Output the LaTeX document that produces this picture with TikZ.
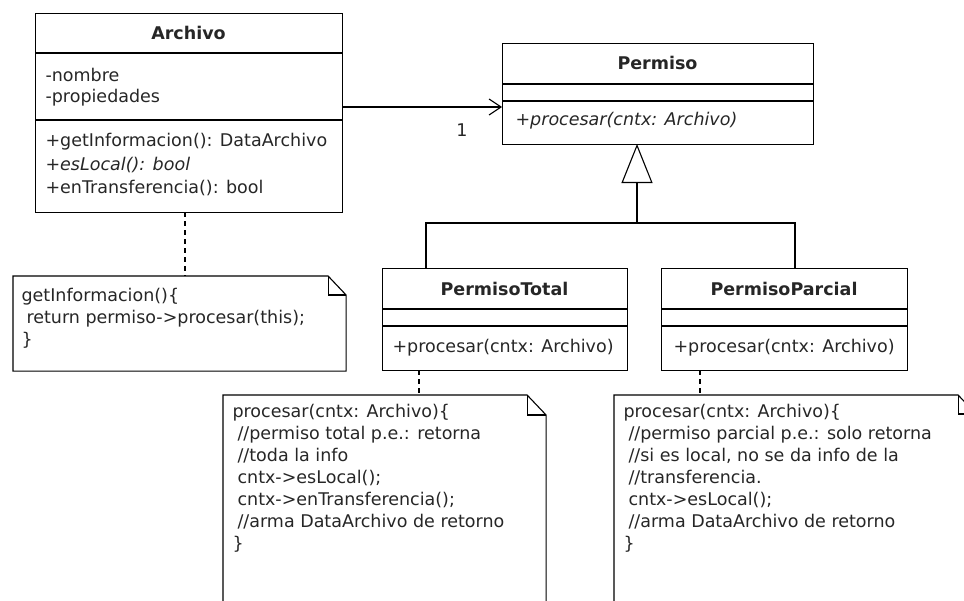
\documentclass[tikz,border=0pt]{standalone}
\usepackage{fontspec}
\setmainfont{DejaVu Sans}
\usetikzlibrary{arrows.meta,calc}
\begin{document}
\begin{tikzpicture}[x=1pt,y=-1pt,
  line width=1.1pt,
  txt/.style={inner sep=0pt,anchor=west,text=black!85,font=\fontsize{17.5}{22}\selectfont},
  ttl/.style={inner sep=0pt,text=black!85,font=\fontsize{17.5}{22}\selectfont\bfseries},
  box/.style={draw,anchor=north west,inner sep=0pt},
  notetxt/.style={inner sep=0pt,anchor=north west,align=left,text=black!85,font=\fontsize{17.5}{22}\selectfont},
  dep/.style={dash pattern=on 5pt off 4pt,line width=1.1pt}
]
\useasboundingbox (0,0) rectangle (964,600);
\clip (0,0) rectangle (964,600);

% Archivo
\node[box,minimum width=307pt,minimum height=199pt] (arch) at (35,13) {};
\draw (35,53) -- (342,53);
\draw (35,120) -- (342,120);
\node[ttl] (archT) at (188.5,33) {Archivo};
\node[txt] (a1) at (45,75) {-nombre};
\node[txt] (a2) at (45,98) {-propiedades};
\node[txt] (m1) at (45,142) {+getInformacion(): DataArchivo};
\node[txt] (m2) at (45,165) {\itshape +esLocal(): bool};
\node[txt] (m3) at (45,188) {+enTransferencia(): bool};

% Permiso
\node[box,minimum width=311pt,minimum height=101pt] (perm) at (502,43) {};
\draw (502,84) -- (813,84);
\draw (502,101) -- (813,101);
\node[ttl] (permT) at (657.5,63) {Permiso};
\node[txt] (pm) at (515,121) {\itshape +procesar(cntx: Archivo)};

% PermisoTotal
\node[box,minimum width=245pt,minimum height=102pt] (ptot) at (382,268) {};
\draw (382,309) -- (627,309);
\draw (382,326) -- (627,326);
\node[ttl] (ptotT) at (504.5,289) {PermisoTotal};
\node[txt] (ptm) at (392,348) {+procesar(cntx: Archivo)};

% PermisoParcial
\node[box,minimum width=246pt,minimum height=102pt] (ppar) at (661,268) {};
\draw (661,309) -- (907,309);
\draw (661,326) -- (907,326);
\node[ttl] (pparT) at (784,289) {PermisoParcial};
\node[txt] (ppm) at (673,348) {+procesar(cntx: Archivo)};

% association
\coordinate (asrc) at (342,107);
\coordinate (adst) at (502,107);
\draw[-{Straight Barb[length=12pt,width=16pt,line width=1.1pt]}] (asrc) -- (adst);
\node[inner sep=0pt,text=black!85,font=\fontsize{17.5}{22}\selectfont] (mult) at (462,130) {1};

% generalization
\coordinate (hub) at (637,223);
\coordinate (tl) at (426,223);
\coordinate (tr) at (795,223);
\coordinate (pb) at (637,144);
\draw (426,268) -- (tl) -- (tr) -- (795,268);
\draw[-{Triangle[open,length=39pt,width=31pt,line width=1.1pt]}] (hub) -- (pb);

% note 1
\node[box,draw=none,minimum width=332pt,minimum height=94pt] (n1) at (13,276) {};
\draw (n1.north west) -- ($(n1.north east)+(-18,0)$) -- ($(n1.north east)+(0,19)$) -- (n1.south east) -- (n1.south west) -- cycle;
\draw ($(n1.north east)+(-18,0)$) -- ++(0,19) -- ++(18,0);
\node[notetxt] (n1t) at (21,288) {getInformacion()\{\\\hspace*{5pt}return permiso->procesar(this);\\\}};
\coordinate (d1a) at (185,212);
\coordinate (d1b) at (185,276);
\draw[dep] (d1a) -- (d1b);

% note 2
\node[box,draw=none,minimum width=322pt,minimum height=220pt] (n2) at (223,395) {};
\draw (n2.north west) -- ($(n2.north east)+(-19,0)$) -- ($(n2.north east)+(0,20)$) -- (n2.south east) -- (n2.south west) -- cycle;
\draw ($(n2.north east)+(-19,0)$) -- ++(0,20) -- ++(19,0);
\node[notetxt] (n2t) at (232,404) {procesar(cntx: Archivo)\{\\
\hspace*{5pt}//permiso total p.e.: retorna\\
\hspace*{5pt}//toda la info\\
\hspace*{5pt}cntx->esLocal();\\
\hspace*{5pt}cntx->enTransferencia();\\
\hspace*{5pt}//arma DataArchivo de retorno\\
\}};
\coordinate (d2a) at (419,370);
\coordinate (d2b) at (419,395);
\draw[dep] (d2a) -- (d2b);

% note 3
\node[box,draw=none,minimum width=361pt,minimum height=220pt] (n3) at (614,395) {};
\draw (n3.north west) -- ($(n3.north east)+(-18,0)$) -- ($(n3.north east)+(0,19)$) -- (n3.south east) -- (n3.south west) -- cycle;
\draw ($(n3.north east)+(-18,0)$) -- ++(0,19) -- ++(18,0);
\node[notetxt] (n3t) at (623,404) {procesar(cntx: Archivo)\{\\
\hspace*{5pt}//permiso parcial p.e.: solo retorna\\
\hspace*{5pt}//si es local, no se da info de la\\
\hspace*{5pt}//transferencia.\\
\hspace*{5pt}cntx->esLocal();\\
\hspace*{5pt}//arma DataArchivo de retorno\\
\}};
\coordinate (d3a) at (700,370);
\coordinate (d3b) at (700,395);
\draw[dep] (d3a) -- (d3b);

\end{tikzpicture}
\end{document}
